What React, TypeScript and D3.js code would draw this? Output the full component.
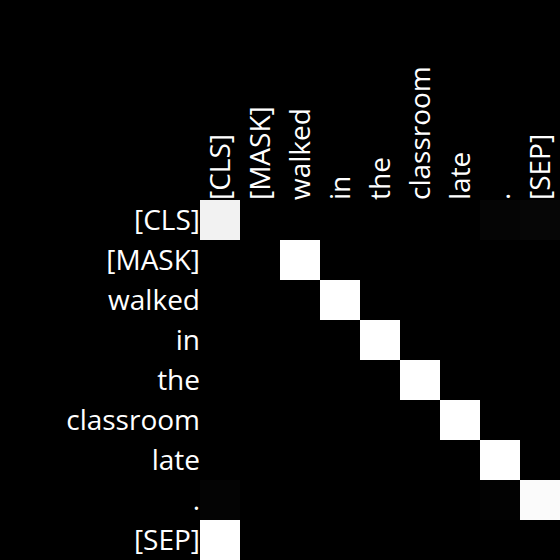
import * as d3 from "d3";
import React from "react";

const tokens = ["[CLS]", "[MASK]", "walked", "in", "the", "classroom", "late", ".", "[SEP]"];

// attention weights, rows = query token, cols = key token
const weights: number[][] = [
  [0.95, 0, 0, 0, 0, 0, 0, 0.018, 0.025],
  [0, 0, 1, 0, 0, 0, 0, 0, 0],
  [0, 0, 0, 1, 0, 0, 0, 0, 0],
  [0, 0, 0, 0, 1, 0, 0, 0, 0],
  [0, 0, 0, 0, 0, 1, 0, 0, 0],
  [0, 0, 0, 0, 0, 0, 1, 0, 0],
  [0, 0, 0, 0, 0, 0, 0, 1, 0],
  [0.015, 0, 0, 0, 0, 0, 0, 0.008, 0.985],
  [1, 0, 0, 0, 0, 0, 0, 0, 0],
];

export default function App() {
  const W = 560;
  const H = 560;
  const m = { top: 200, left: 200 };

  const x = d3.scaleBand<string>().domain(tokens).range([m.left, W]);
  const y = d3.scaleBand<string>().domain(tokens).range([m.top, H]);
  const color = d3.scaleLinear<string>().domain([0, 1]).range(["#000000", "#ffffff"]);

  return (
    <svg
      width={W}
      height={H}
      style={{ position: "absolute", left: 0, top: 0, background: "#000" }}
      fontFamily="'Open Sans', sans-serif"
    >
      <rect width={W} height={H} fill="#000" />

      {/* cells */}
      {weights.map((row, i) =>
        row.map((v, j) => (
          <rect
            key={`${i}-${j}`}
            x={x(tokens[j])}
            y={y(tokens[i])}
            width={x.bandwidth()}
            height={y.bandwidth()}
            fill={color(v)}
          />
        ))
      )}

      {/* row labels */}
      {tokens.map((t) => (
        <text
          key={"r" + t}
          x={m.left}
          y={(y(t) ?? 0) + y.bandwidth() / 2}
          dy="0.35em"
          textAnchor="end"
          fontSize={28}
          fill="#fff"
        >
          {t}
        </text>
      ))}

      {/* column labels */}
      {tokens.map((t) => (
        <text
          key={"c" + t}
          transform={`translate(${(x(t) ?? 0) + x.bandwidth() / 2},${m.top}) rotate(-90)`}
          dy="0.35em"
          textAnchor="start"
          fontSize={28}
          fill="#fff"
        >
          {t}
        </text>
      ))}
    </svg>
  );
}
